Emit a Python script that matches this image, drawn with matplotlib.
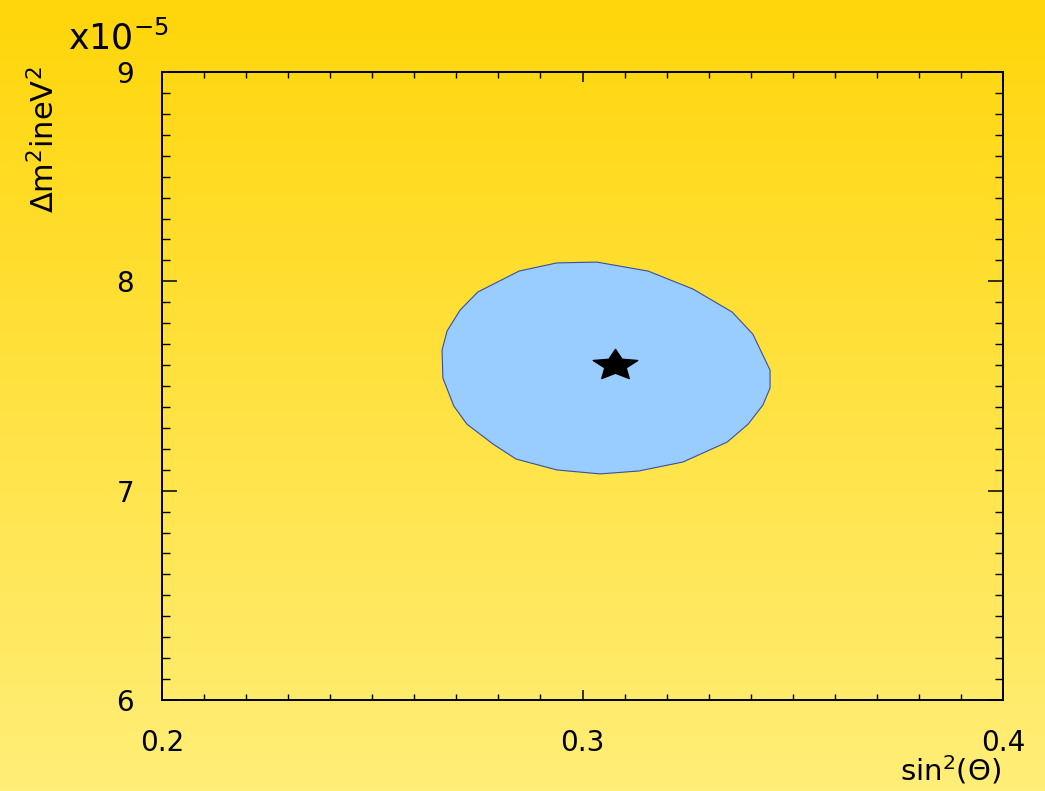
import numpy as np
import matplotlib
matplotlib.use('Agg')
import matplotlib.pyplot as plt
from matplotlib.path import Path
from matplotlib.ticker import MultipleLocator, FuncFormatter

# contour of the allowed region (sin^2 theta, dm^2 in 1e-5 eV^2)
contour_x = [0.2939, 0.3034, 0.3156, 0.3263, 0.3356, 0.3405, 0.3446, 0.3446,
             0.3429, 0.3394, 0.3344, 0.3239, 0.3134, 0.3042, 0.2939, 0.2842,
             0.2787, 0.2725, 0.2694, 0.2668, 0.2666, 0.2678, 0.2709, 0.2751,
             0.2849]
contour_y = [8.088, 8.092, 8.049, 7.963, 7.853, 7.748, 7.576, 7.490,
             7.409, 7.318, 7.232, 7.137, 7.094, 7.080, 7.099, 7.151,
             7.223, 7.318, 7.404, 7.538, 7.672, 7.763, 7.863, 7.949,
             8.049]

# best fit point
best_x = [0.3077]
best_y = [7.60]

xticks = [0.2, 0.3, 0.4]
yticks = [6, 7, 8, 9]

fig = plt.figure(figsize=(10.45, 7.91), dpi=100)

# gradient background over the whole canvas
bg = fig.add_axes([0, 0, 1, 1], zorder=-10)
top = np.array([255, 214, 10]) / 255.
bot = np.array([255, 238, 120]) / 255.
t = np.linspace(0, 1, 256)[:, None]
grad = (1 - t) * top + t * bot
bg.imshow(grad[:, None, :].repeat(4, axis=1), aspect='auto', extent=[0, 1, 0, 1])
bg.set_axis_off()

ax = fig.add_axes([162/1045, 1 - 700/791, 841/1045, 628/791])
ax.patch.set_visible(False)

ax.fill(contour_x, contour_y, facecolor='#99ccff', edgecolor='#3a4f9a', lw=0.8)

# horizontally stretched five-point star marker
ang = np.pi/2 + np.arange(10) * np.pi/5
rad = np.where(np.arange(10) % 2 == 0, 1.0, 0.48)
verts = np.column_stack([1.45 * rad * np.cos(ang), rad * np.sin(ang)])
verts = np.vstack([verts, verts[:1]])
star = Path(verts, closed=True)
ax.plot(best_x, best_y, marker=star, ms=32, color='black', ls='none')

ax.set_xlim(0.2, 0.4)
ax.set_ylim(6, 9)
ax.set_xticks(xticks)
ax.set_yticks(yticks)
ax.xaxis.set_minor_locator(MultipleLocator(0.01))
ax.yaxis.set_minor_locator(MultipleLocator(0.1))
ax.xaxis.set_major_formatter(FuncFormatter(lambda v, p: '%.1f' % v))
ax.yaxis.set_major_formatter(FuncFormatter(lambda v, p: '%d' % round(v)))

ax.tick_params(axis='x', which='major', direction='in', length=7.5, width=1.1,
               top=True, bottom=True, labelsize=20, pad=21)
ax.tick_params(axis='x', which='minor', direction='in', length=4, width=1.0,
               top=True, bottom=True)
ax.tick_params(axis='y', which='major', direction='in', length=11, width=1.1,
               left=True, right=True, labelsize=20, pad=20)
ax.tick_params(axis='y', which='minor', direction='in', length=6, width=1.0,
               left=True, right=True)
for s in ax.spines.values():
    s.set_linewidth(1.4)

fig.text(68/1045, 1 - 50/791, r'x10$^{-5}$', fontsize=25, ha='left', va='baseline')
fig.text(44/1045, 1 - 66/791, r'$\Delta$m$^2$ineV$^2$', fontsize=22,
         rotation=90, ha='center', va='top')
fig.text(1001/1045, 1 - 781/791, r'sin$^2$($\Theta$)', fontsize=21,
         ha='right', va='baseline')

plt.savefig('out.png', dpi=100)
